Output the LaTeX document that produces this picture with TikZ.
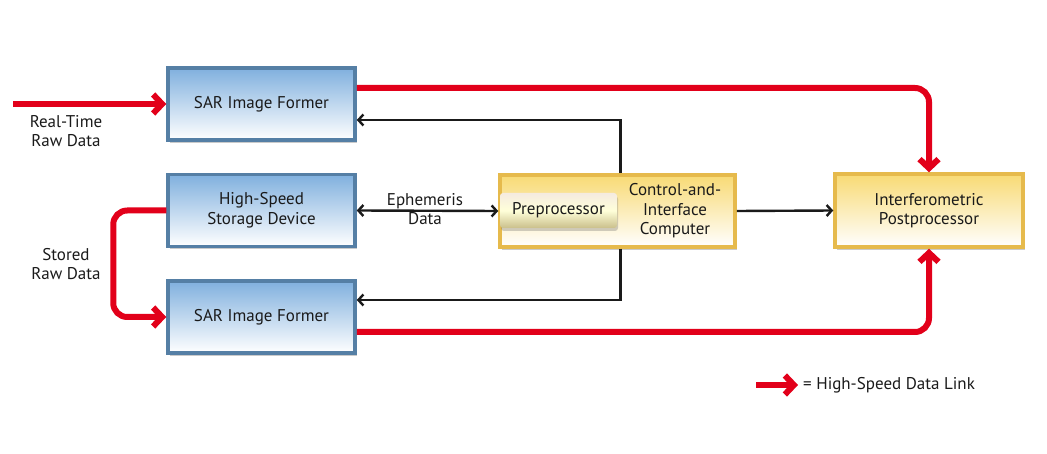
\documentclass[tikz,border=0pt]{standalone}
\usepackage{fontspec}
\setmainfont{PT Sans}
\usetikzlibrary{arrows.meta,shadows,calc}
\definecolor{linkred}{HTML}{E2001A}
\definecolor{bluetop}{HTML}{80B0DE}
\definecolor{blueframe}{HTML}{557FA5}
\definecolor{goldframe}{HTML}{E6BA4C}
\definecolor{goldtop}{HTML}{F8DA74}
\definecolor{txt}{HTML}{1A1A1A}
\tikzset{
  bluebox/.style={draw=blueframe, line width=3.5pt, top color=bluetop, bottom color=white,
    minimum width=187pt, minimum height=72pt, inner sep=0pt, align=center,
    font=\fontsize{17}{19.5}\selectfont, text=txt,
    drop shadow={shadow xshift=2pt, shadow yshift=-3pt, opacity=0.35, fill=black!60}},
  goldbox/.style={draw=goldframe, line width=3.5pt, top color=goldtop, bottom color=white,
    inner sep=0pt, align=center, font=\fontsize{17}{19.5}\selectfont, text=txt,
    drop shadow={shadow xshift=2pt, shadow yshift=-3pt, opacity=0.35, fill=black!60}},
  prebox/.style={draw=none, rounded corners=3pt, top color=white!60!brown!40, bottom color=brown!35!olive!50,
    middle color=white!85!yellow, minimum width=117pt, minimum height=35pt, inner sep=0pt,
    font=\fontsize{17}{19.5}\selectfont, text=txt,
    drop shadow={shadow xshift=1pt, shadow yshift=-3pt, opacity=0.3, fill=black!60}},
  lbl/.style={align=center, font=\fontsize{17}{19.5}\selectfont, text=txt, inner sep=0pt},
  redlink/.style={draw=linkred, line width=6pt, rounded corners=14pt,
    -{Straight Barb[length=9pt,width=19pt,line join=miter]}},
  ctrl/.style={draw=txt, line width=2.4pt, -{Straight Barb[length=5pt,width=11pt]}},
}
\begin{document}
\begin{tikzpicture}[x=1pt,y=-1pt]
\useasboundingbox (0,0) rectangle (1047,454);
% boxes
\node[bluebox] (sar1) at (261.5,104) {SAR Image Former};
\node[bluebox] (hssd) at (261.5,210.5) {High-Speed\\Storage Device};
\node[bluebox] (sar2) at (261.5,317) {SAR Image Former};
\node[goldbox, minimum width=235pt, minimum height=72pt] (ctl) at (617.5,211) {};
\node[prebox] (pre) at (558.5,210.5) {Preprocessor};
\node[lbl] (ctltext) at (675,211) {Control-and-\\Interface\\Computer};
\node[goldbox, minimum width=188pt, minimum height=73pt] (interf) at (929,210.5) {Interferometric\\Postprocessor};
% labels
\node[lbl] (rtlabel) at (66,131) {Real-Time\\Raw Data};
\node[lbl] (stlabel) at (66,264) {Stored\\Raw Data};
\node[lbl] (ephlabel) at (425,209) {Ephemeris\\Data};
% red links
\coordinate (rtstart) at (13,104);
\draw[redlink] (rtstart) -- (sar1.west);
\draw[redlink] ($(sar1.east)+(0,-16)$) -| (interf.north);
\draw[redlink] ($(sar2.east)+(0,15)$) -| (interf.south);
\draw[redlink] (hssd.west) -- ++(-53,0) |- (sar2.west);
% control lines
\draw[ctrl] ($(ctl.north)+(3,0)$) |- ($(sar1.east)+(0,16)$);
\draw[ctrl] ($(ctl.south)+(3,0)$) |- ($(sar2.east)+(0,-17)$);
\draw[ctrl, {Straight Barb[length=5pt,width=11pt]}-{Straight Barb[length=5pt,width=11pt]}] (hssd.east) -- (ctl.west);
\draw[ctrl] (ctl.east) -- (interf.west);
% legend
\coordinate (lg1) at (756,385);
\coordinate (lg2) at (798,385);
\draw[redlink] (lg1) -- (lg2);
\node[lbl, anchor=west] (lgtext) at (803,385) {= High-Speed Data Link};
\end{tikzpicture}
\end{document}
